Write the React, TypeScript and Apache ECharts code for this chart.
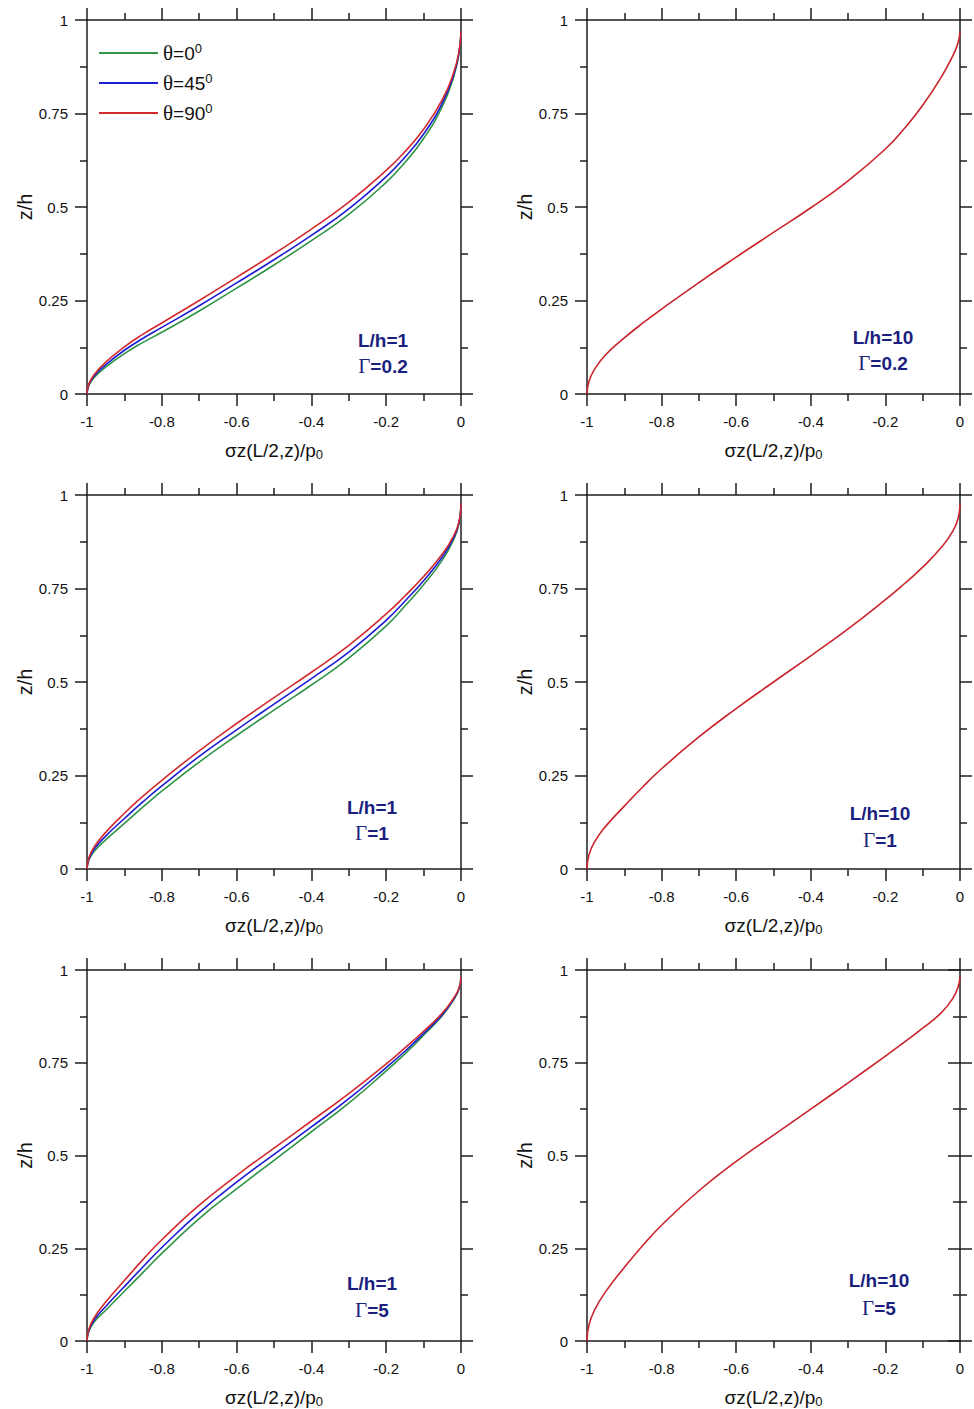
import React, { useEffect, useRef } from 'react';
import * as echarts from 'echarts';

// shared abscissa: sigma_z(L/2,z)/p0
const sigma = [-1, -0.995, -0.98, -0.95, -0.9, -0.85, -0.8, -0.7, -0.6, -0.5, -0.4, -0.3, -0.2, -0.15, -0.1, -0.05, -0.02, -0.005, 0];

// L/h = 1, Gamma = 0.2  (z/h values)
const lh1_g02_t0 = [0, 0.023, 0.045, 0.072, 0.108, 0.138, 0.165, 0.222, 0.283, 0.345, 0.41, 0.48, 0.566, 0.619, 0.683, 0.769, 0.847, 0.912, 0.97];
const lh1_g02_t45 = [0, 0.025, 0.049, 0.078, 0.117, 0.149, 0.178, 0.236, 0.297, 0.359, 0.424, 0.495, 0.581, 0.633, 0.695, 0.778, 0.852, 0.915, 0.97];
const lh1_g02_t90 = [0, 0.027, 0.053, 0.085, 0.126, 0.16, 0.19, 0.25, 0.312, 0.375, 0.441, 0.513, 0.598, 0.648, 0.708, 0.787, 0.858, 0.918, 0.97];
// L/h = 1, Gamma = 1
const lh1_g1_t0 = [0, 0.024, 0.048, 0.078, 0.122, 0.166, 0.208, 0.286, 0.357, 0.425, 0.492, 0.564, 0.65, 0.703, 0.76, 0.826, 0.88, 0.925, 0.978];
const lh1_g1_t45 = [0, 0.027, 0.054, 0.088, 0.135, 0.18, 0.222, 0.301, 0.372, 0.441, 0.509, 0.58, 0.665, 0.716, 0.771, 0.834, 0.885, 0.928, 0.978];
const lh1_g1_t90 = [0, 0.03, 0.06, 0.098, 0.149, 0.195, 0.237, 0.316, 0.389, 0.458, 0.526, 0.598, 0.682, 0.73, 0.782, 0.842, 0.89, 0.93, 0.978];
// L/h = 1, Gamma = 5
const lh1_g5_t0 = [0, 0.026, 0.052, 0.083, 0.134, 0.185, 0.236, 0.33, 0.41, 0.487, 0.564, 0.641, 0.728, 0.774, 0.824, 0.877, 0.919, 0.95, 0.982];
const lh1_g5_t45 = [0, 0.029, 0.058, 0.093, 0.147, 0.2, 0.252, 0.346, 0.428, 0.503, 0.577, 0.653, 0.737, 0.781, 0.829, 0.88, 0.921, 0.951, 0.982];
const lh1_g5_t90 = [0, 0.032, 0.064, 0.105, 0.163, 0.22, 0.273, 0.366, 0.446, 0.52, 0.593, 0.667, 0.747, 0.79, 0.835, 0.884, 0.924, 0.952, 0.982];
// L/h = 10
const lh10_g02 = [0, 0.033, 0.066, 0.105, 0.15, 0.19, 0.227, 0.298, 0.366, 0.432, 0.498, 0.57, 0.655, 0.709, 0.772, 0.848, 0.903, 0.94, 0.97];
const lh10_g1 = [0, 0.037, 0.072, 0.114, 0.168, 0.22, 0.268, 0.353, 0.429, 0.5, 0.57, 0.642, 0.72, 0.762, 0.807, 0.86, 0.902, 0.938, 0.978];
const lh10_g5 = [0, 0.042, 0.083, 0.133, 0.198, 0.258, 0.312, 0.405, 0.484, 0.555, 0.625, 0.696, 0.768, 0.805, 0.843, 0.885, 0.922, 0.955, 0.982];

const thetaNames = ['θ=0', 'θ=45', 'θ=90'];
const thetaColors = ['#2f9447', '#1c1cd2', '#d32a2e'];
const singleColor = '#c9232b';

const panelLH = ['1', '10', '1', '10', '1', '10'];
const panelGamma = ['0.2', '0.2', '1', '1', '5', '5'];

const xTicksInterval = 0.2;
const yTicksInterval = 0.25;

const FONT = '"Liberation Sans", Arial, sans-serif';
const SERIF = '"Liberation Serif", "Times New Roman", serif';
const AXIS_COLOR = '#1e1e1e';
const NAVY = '#1b1f7e';

// layout of the 6 panels (left, top) in pixels
const panelLeft = [87, 587, 87, 587, 87, 587];
const panelTop = [20, 20, 495, 495, 970, 970];
const panelW = [374, 373, 374, 373, 374, 373];
const panelH = 374;
// annotation centres
const annX = [383, 883, 372, 880, 372, 879];
const annY1 = [340, 337, 807, 813, 1283, 1280];
const annY2 = [366, 363, 833, 840, 1310, 1308];

const pairs = (ys: number[]) => sigma.map((s, i) => [s, ys[i]]);

export default function App() {
  const ref = useRef<HTMLDivElement>(null);

  useEffect(() => {
    if (!ref.current) return;
    const chart = echarts.init(ref.current, undefined, { renderer: 'svg' });

    const grids: any[] = [];
    const xAxes: any[] = [];
    const yAxes: any[] = [];
    const series: any[] = [];
    const graphics: any[] = [];

    const tickStyle = { color: AXIS_COLOR, width: 1.5 };

    for (let i = 0; i < 6; i++) {
      grids.push({ left: panelLeft[i], top: panelTop[i], width: panelW[i], height: panelH, containLabel: false });
      const base = {
        type: 'value',
        gridIndex: i,
        axisLine: { show: true, onZero: false, lineStyle: tickStyle },
        axisTick: { show: true, inside: false, length: 12, lineStyle: tickStyle },
        minorTick: { show: true, splitNumber: 2, length: 7, lineStyle: tickStyle },
        splitLine: { show: false },
        minorSplitLine: { show: false },
      };
      xAxes.push({
        ...base,
        position: 'bottom',
        min: -1,
        max: 0,
        interval: xTicksInterval,
        axisLabel: { show: true, margin: 20, fontSize: 15, color: '#111', fontFamily: FONT },
        name: 'σz(L/2,z)/p{sub|0}',
        nameLocation: 'middle',
        nameGap: 46,
        nameTextStyle: {
          fontSize: 19,
          color: '#111',
          fontFamily: FONT,
          rich: { sub: { fontSize: 13, fontFamily: FONT, color: '#111', padding: [8, 0, 0, 0] } },
        },
      });
      xAxes.push({
        ...base,
        position: 'top',
        min: -1,
        max: 0,
        interval: xTicksInterval,
        axisLabel: { show: false },
      });
      yAxes.push({
        ...base,
        position: 'left',
        min: 0,
        max: 1,
        interval: yTicksInterval,
        axisLabel: { show: true, margin: 19, fontSize: 15, color: '#111', fontFamily: FONT },
        name: 'z/h',
        nameLocation: 'middle',
        nameGap: 52,
        nameTextStyle: { fontSize: 20, color: '#111', fontFamily: FONT },
      });
      yAxes.push({
        ...base,
        position: 'right',
        min: 0,
        max: 1,
        interval: yTicksInterval,
        axisLabel: { show: false },
      });
    }
    // bottom-right panel: right axis ticks cross the axis line
    yAxes.push({
      type: 'value',
      gridIndex: 5,
      position: 'right',
      min: 0,
      max: 1,
      interval: yTicksInterval,
      axisLine: { show: false },
      axisTick: { show: true, inside: true, length: 12, lineStyle: tickStyle },
      minorTick: { show: true, splitNumber: 2, length: 7, lineStyle: tickStyle },
      splitLine: { show: false },
      axisLabel: { show: false },
    });

    const addLine = (name: string, color: string, data: number[][], idx: number, z: number) => {
      series.push({
        type: 'line',
        name,
        xAxisIndex: 2 * idx,
        yAxisIndex: 2 * idx,
        data,
        smooth: 0.5,
        symbol: 'none',
        showSymbol: false,
        lineStyle: { color, width: 1.6 },
        itemStyle: { color },
        z,
      });
    };

    const leftSets = [
      [lh1_g02_t0, lh1_g02_t45, lh1_g02_t90],
      [lh1_g1_t0, lh1_g1_t45, lh1_g1_t90],
      [lh1_g5_t0, lh1_g5_t45, lh1_g5_t90],
    ];
    const rightSets = [lh10_g02, lh10_g1, lh10_g5];

    for (let r = 0; r < 3; r++) {
      const li = 2 * r;
      for (let k = 0; k < 3; k++) addLine(thetaNames[k], thetaColors[k], pairs(leftSets[r][k]), li, 2 + k);
      addLine('L/h=10', singleColor, pairs(rightSets[r]), li + 1, 2);
    }

    for (let i = 0; i < 6; i++) {
      graphics.push({
        type: 'text',
        x: annX[i],
        y: annY1[i],
        style: {
          text: 'L/h=' + panelLH[i],
          fill: NAVY,
          font: `bold 19px ${FONT}`,
          textAlign: 'center',
          textVerticalAlign: 'middle',
        },
      });
      graphics.push({
        type: 'text',
        x: annX[i],
        y: annY2[i],
        style: {
          text: '{g|Γ}{b|=' + panelGamma[i] + '}',
          textAlign: 'center',
          textVerticalAlign: 'middle',
          rich: {
            g: { fill: NAVY, fontFamily: SERIF, fontSize: 21 },
            b: { fill: NAVY, fontFamily: FONT, fontSize: 19, fontWeight: 'bold' },
          },
        },
      });
    }

    chart.setOption({
      animation: false,
      backgroundColor: '#ffffff',
      grid: grids,
      xAxis: xAxes,
      yAxis: yAxes,
      series,
      legend: {
        data: thetaNames,
        orient: 'vertical',
        left: 99,
        top: 42,
        padding: 0,
        itemWidth: 59,
        itemHeight: 2,
        itemGap: 7,
        icon: 'rect',
        selectedMode: false,
        formatter: (n: string) => '{t|θ}=' + n.slice(2) + '{sup|0}',
        textStyle: {
          fontSize: 19,
          lineHeight: 22,
          color: '#111',
          fontFamily: FONT,
          rich: {
            t: { fontFamily: SERIF, fontSize: 21, color: '#111', lineHeight: 22 },
            sup: { fontSize: 13, color: '#111', fontFamily: FONT, verticalAlign: 'top', lineHeight: 12, padding: [0, 0, 10, 0] },
          },
        },
      },
      graphic: graphics,
    });

    return () => chart.dispose();
  }, []);

  return (
    <div
      ref={ref}
      style={{ position: 'absolute', left: 0, top: 0, width: 974, height: 1409, background: '#fff' }}
    />
  );
}
